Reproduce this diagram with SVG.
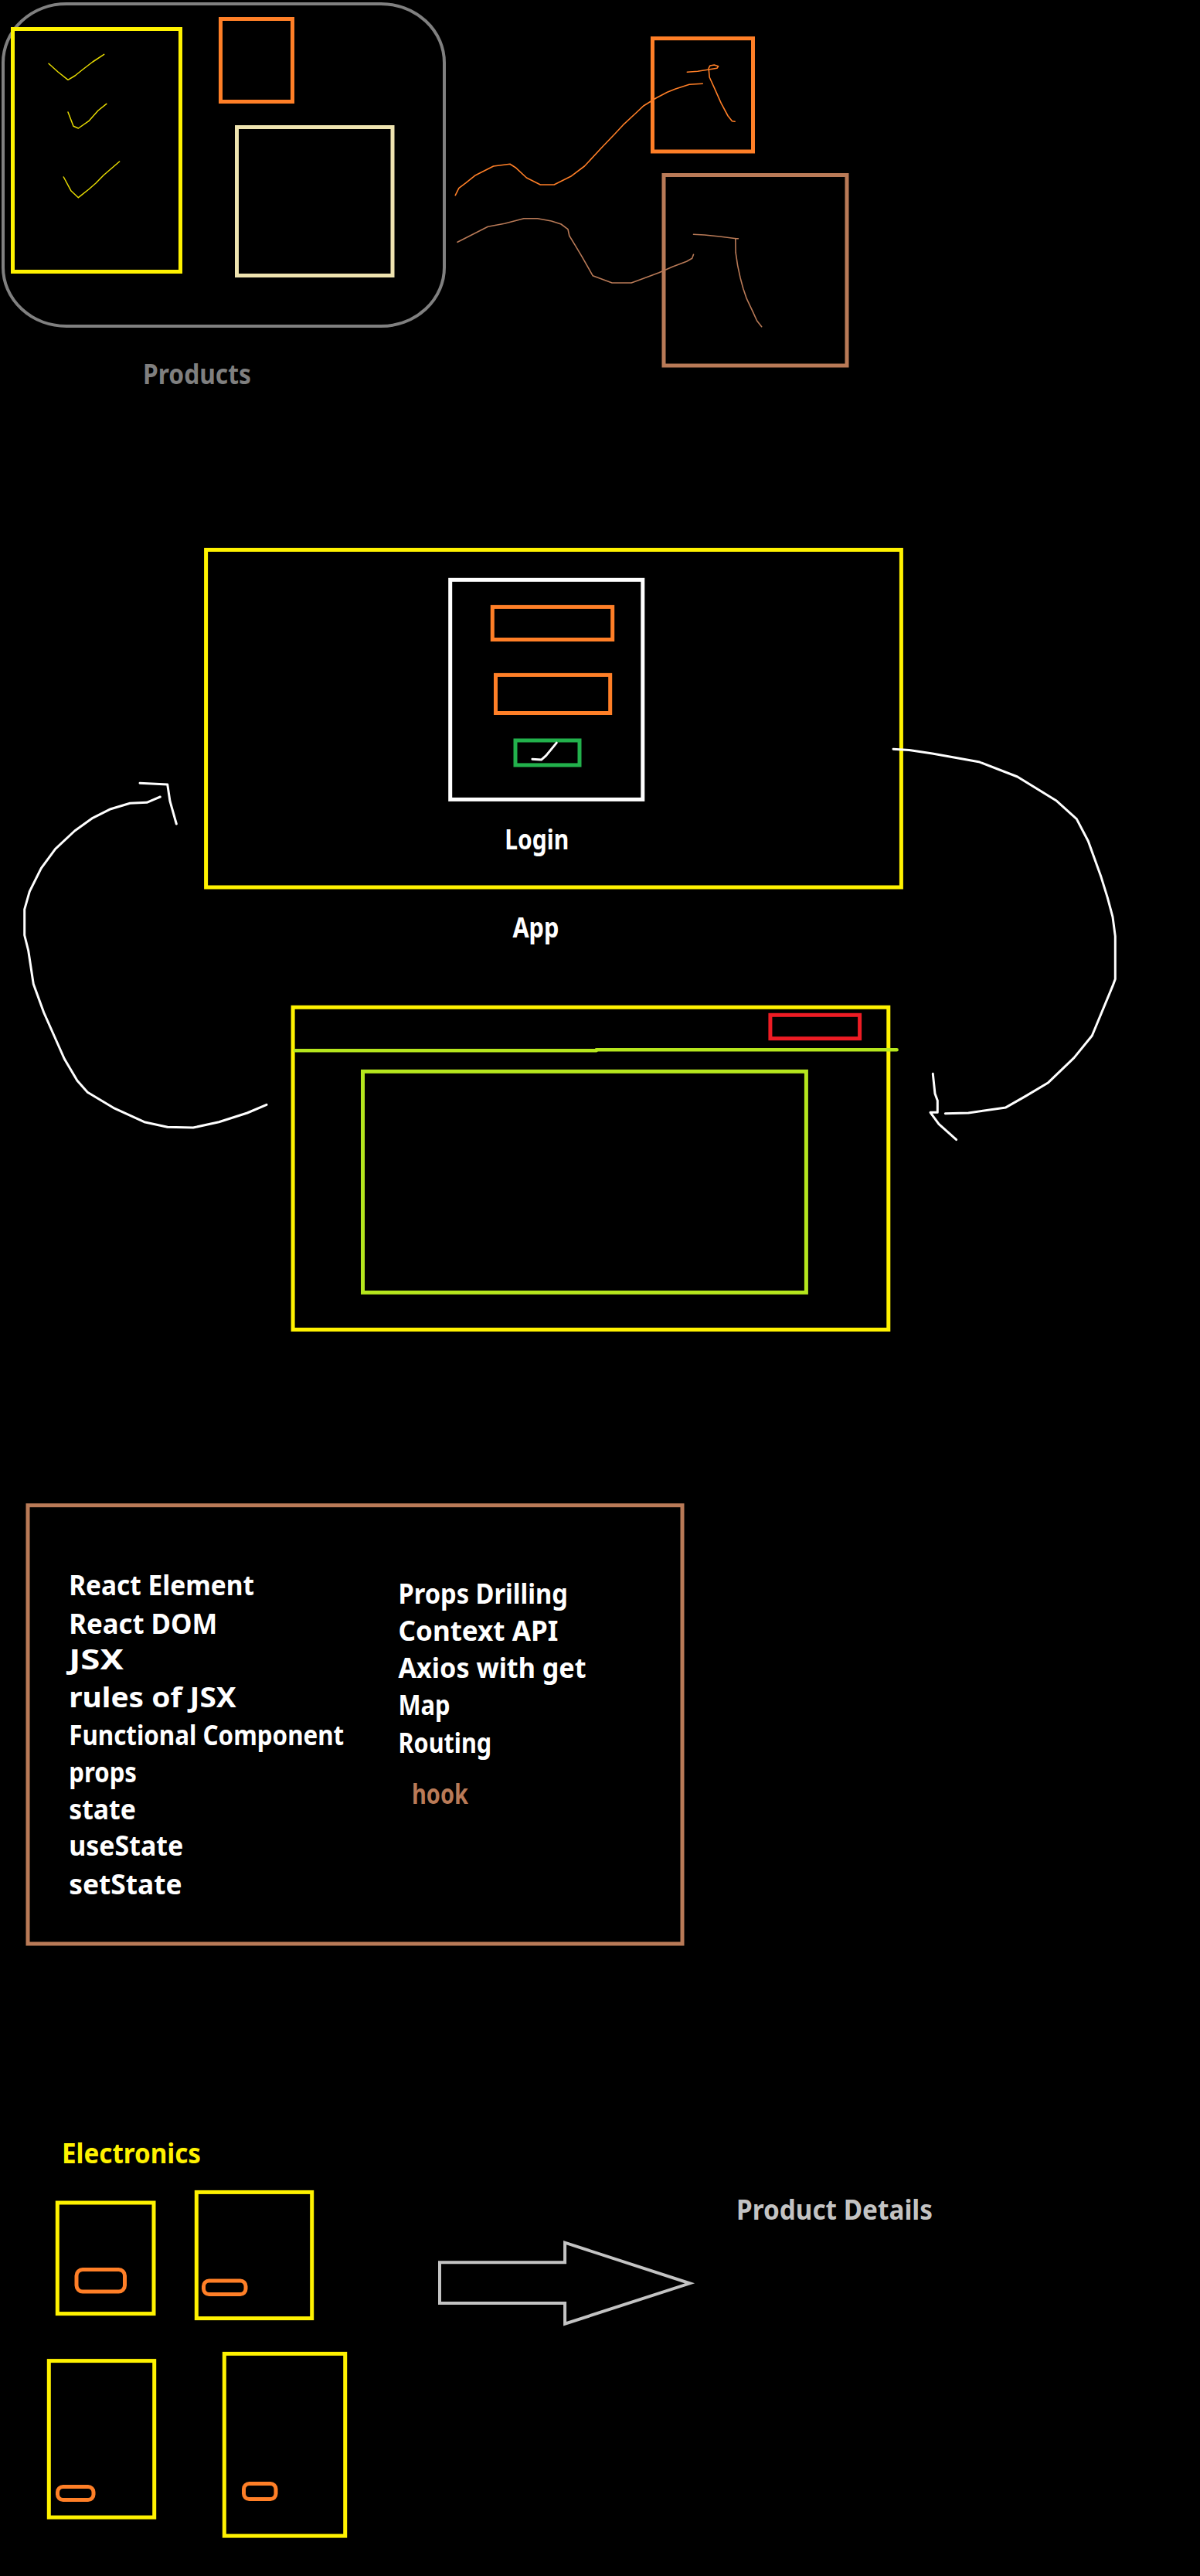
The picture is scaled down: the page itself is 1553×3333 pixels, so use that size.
<svg xmlns="http://www.w3.org/2000/svg" width="1553" height="3333" viewBox="0 0 1553 3333">
<style>
.t{font-family:"Noto Sans","DejaVu Sans",sans-serif;font-weight:bold;font-size:35px;fill:#fff}
.box{fill:none;stroke-width:5}
.y{stroke:#FFF200}
.o{stroke:#FF7F27}
.br{stroke:#B97A57}
.w{stroke:#fff}
.lg{stroke:#B5E61D}
.ink{fill:none;stroke-linecap:round;stroke-linejoin:round}
</style>
<rect x="0" y="0" width="1553" height="3333" fill="#000"/>

<g id="products">
  <rect x="4" y="5" width="571" height="417" rx="82" ry="76" fill="none" stroke="#808080" stroke-width="4"/>
  <rect class="box y" x="16.5" y="37.5" width="217" height="314"/>
  <rect class="box o" x="285.5" y="24.5" width="93" height="107"/>
  <rect class="box" stroke="#EFE4B0" x="306.5" y="164.5" width="201.5" height="192"/>
  <polyline class="ink" stroke="#E8DC00" stroke-width="1.5" points="63,82.3 75,93 88,103.3 97,98 107,90 120,80 134.7,70.3"/>
  <polyline class="ink" stroke="#E8DC00" stroke-width="1.5" points="88,145 95,163.3 101.4,166 114.8,156.7 127,143 137.8,134.3"/>
  <polyline class="ink" stroke="#E8DC00" stroke-width="1.5" points="82.3,229 91.8,246.7 101.4,255.7 114.8,245 124,237 134,226.7 154.6,209"/>
  <text class="t" x="185" y="496.5" style="fill:#7F7F7F" textLength="140" lengthAdjust="spacingAndGlyphs">Products</text>
</g>

<g id="detail-a">
  <rect class="box o" x="844.5" y="49.7" width="130" height="146.3"/>
  <polyline class="ink" stroke="#FF7F27" stroke-width="1.6" points="889.3,93.3 902.9,92.3 917.1,90 927.9,88.3 929.6,85.7 924.3,84 918.9,85 917.1,88.3 918.2,100 924.3,113.3 933.2,133.3 942.1,150 947.5,156.7 951.1,157.3"/>
</g>

<g id="detail-b">
  <rect class="box br" x="859" y="226.5" width="237" height="246.5"/>
  <polyline class="ink" stroke="#B97A57" stroke-width="1.6" points="897.5,303.3 911.8,304 931.4,306 952.9,308.7 955.4,308.7"/>
  <polyline class="ink" stroke="#B97A57" stroke-width="1.6" points="951.8,309.3 952.1,326.7 954.6,343.3 958.2,360 961.8,373.3 966.4,386.7 974.3,403.3 979.6,415 985.7,422.7"/>
</g>

<g id="app">
  <rect class="box y" x="266.6" y="711.4" width="899.8" height="436.6"/>
  <text class="t" x="663.4" y="1213" textLength="60" lengthAdjust="spacingAndGlyphs">App</text>
</g>

<g id="login">
  <rect class="box w" x="582.7" y="750.3" width="249.1" height="284.1"/>
  <rect class="box o" x="637.3" y="785.4" width="155.4" height="42.1"/>
  <rect class="box o" x="641.5" y="873.4" width="148.2" height="49.1"/>
  <rect class="box" stroke="#22B14C" stroke-width="4" x="667" y="958" width="83" height="31.9"/>
  <polyline class="ink" stroke="#fff" stroke-width="3" points="688.9,982.2 700.8,982.9 706.7,977.6 720.3,961.1"/>
  <text class="t" x="653.3" y="1098.6" textLength="83" lengthAdjust="spacingAndGlyphs">Login</text>
</g>

<g id="layout">
  <rect class="box y" x="379.1" y="1303.3" width="770.7" height="417"/>
  <rect class="box" stroke="#ED1C24" stroke-width="4.5" x="996.9" y="1313.3" width="115.7" height="30.4"/>
  <polyline class="ink lg" stroke-width="4.5" points="381.7,1359.3 771.7,1359.3 771.7,1358.3 1160.6,1358.3"/>
  <rect class="box lg" stroke-width="4.5" x="469.5" y="1386.3" width="573.9" height="286"/>
</g>

<g id="connectors">
  <polyline class="ink" stroke="#FF7F27" stroke-width="1.6" points="589.3,252.7 593.9,243.3 602.9,236.7 615.4,226.7 638.6,215 660,212.3 667.1,216.7 681.4,230 699.3,239 717.1,239 738.6,228.3 756.4,215 779.6,190 795.7,173.3 806.4,161.7 824.3,145 833.2,136.7 849.3,126.7 863.6,119.3 874.3,115 892.1,109.3 909.3,108.3"/>
  <polyline class="ink" stroke="#B97A57" stroke-width="1.6" points="592.1,313.3 631.4,293.3 652.9,289.3 677.9,282.7 695.7,282.7 713.6,286 726.1,290 735,296.7 736.8,305 743.9,316.7 752.9,331.7 767.1,356.7 792.1,366 817.1,366 831.4,360.7 852.9,352.7 870.7,345 888.6,338.3 895.7,334.3 897.5,329.3"/>
  <polyline class="ink" stroke="#fff" stroke-width="3" points="345,1429.3 320,1440 283.3,1451.7 250,1459 216.7,1458.3 186.7,1451.7 146.7,1433.3 113.3,1413.3 100,1398.3 83.3,1370 70,1340 56.7,1310 43.3,1273.3 36.7,1230 31.7,1210 31.7,1176.7 38.3,1153.3 53.3,1123.3 71.7,1098.3 96.7,1075 120,1058.3 143.3,1046.7 168.3,1039.3 190,1038.3 201.7,1033.3 207.3,1031"/>
  <polyline class="ink" stroke="#fff" stroke-width="3" points="181,1013.3 216.7,1015 220,1036.7 228.3,1066"/>
  <polyline class="ink" stroke="#fff" stroke-width="3" points="1156,969.3 1176.7,970.4 1206.7,975 1266.7,985.7 1316.7,1005 1366.7,1035.7 1393.3,1059.6 1408.3,1088.2 1425,1134.6 1433.3,1161.4 1440,1186.4 1443.3,1211.4 1443.3,1266.8 1440,1275.7 1413.3,1340 1390,1368.6 1356.7,1400.7 1326.7,1418.6 1301.7,1432.9 1253.3,1440 1223.3,1440.7"/>
  <polyline class="ink" stroke="#fff" stroke-width="3" points="1207.3,1389.3 1210,1415 1213.3,1423.9 1213.3,1439.3 1204,1439.3 1215,1454.3 1237.7,1474.6"/>
</g>

<g id="topics">
  <rect class="box br" x="36" y="1947.7" width="847" height="567.3"/>
  <text class="t" x="89.2" y="2064.3" textLength="239.7" lengthAdjust="spacingAndGlyphs">React Element</text>
  <text class="t" x="89.2" y="2114.3" textLength="192" lengthAdjust="spacingAndGlyphs">React DOM</text>
  <text class="t" x="89.2" y="2160.2" textLength="70.8" lengthAdjust="spacingAndGlyphs">JSX</text>
  <text class="t" x="89.2" y="2209.2" textLength="216.7" lengthAdjust="spacingAndGlyphs">rules of JSX</text>
  <text class="t" x="89.2" y="2258" textLength="356" lengthAdjust="spacingAndGlyphs">Functional Component</text>
  <text class="t" x="89.2" y="2305.5" textLength="87.8" lengthAdjust="spacingAndGlyphs">props</text>
  <text class="t" x="89.2" y="2354.4" textLength="86.7" lengthAdjust="spacingAndGlyphs">state</text>
  <text class="t" x="89.2" y="2401" textLength="148" lengthAdjust="spacingAndGlyphs">useState</text>
  <text class="t" x="89.2" y="2451" textLength="146.5" lengthAdjust="spacingAndGlyphs">setState</text>
  <text class="t" x="515.5" y="2074.8" textLength="219.4" lengthAdjust="spacingAndGlyphs">Props Drilling</text>
  <text class="t" x="515.5" y="2123" textLength="206.8" lengthAdjust="spacingAndGlyphs">Context API</text>
  <text class="t" x="515.5" y="2170.8" textLength="243" lengthAdjust="spacingAndGlyphs">Axios with get</text>
  <text class="t" x="515.5" y="2219" textLength="67" lengthAdjust="spacingAndGlyphs">Map</text>
  <text class="t" x="515.5" y="2267.5" textLength="120.7" lengthAdjust="spacingAndGlyphs">Routing</text>
  <text class="t" x="533" y="2334.4" style="fill:#B97A57" textLength="73" lengthAdjust="spacingAndGlyphs">hook</text>
</g>

<g id="electronics">
  <text class="t" x="80" y="2798.9" style="fill:#FFF200" textLength="180" lengthAdjust="spacingAndGlyphs">Electronics</text>
  <rect class="box y" stroke-width="4.5" x="74.3" y="2850" width="124.7" height="143.6"/>
  <rect class="box o" stroke-width="4" x="99" y="2936.5" width="62.5" height="28.5" rx="8"/>
  <rect class="box y" stroke-width="4.5" x="254.3" y="2836.4" width="149.4" height="163.2"/>
  <rect class="box o" stroke-width="4" x="263.5" y="2951" width="54.5" height="17.5" rx="7"/>
  <rect class="box y" stroke-width="4.5" x="63.3" y="3054.6" width="136.4" height="202.5"/>
  <rect class="box o" stroke-width="4" x="74.5" y="3217.5" width="46.5" height="17" rx="7"/>
  <rect class="box y" stroke-width="4.5" x="290.3" y="3045.4" width="156.4" height="235.7"/>
  <rect class="box o" stroke-width="4" x="315.5" y="3213.5" width="41.5" height="20" rx="7"/>
</g>

<g id="arrow">
  <polygon points="569,2927.3 731.1,2927.3 731.1,2901.7 892.7,2954.3 731.1,3006.7 731.1,2980 569,2980" fill="none" stroke="#C3C3C3" stroke-width="4"/>
</g>

<g id="product-details">
  <text class="t" x="953" y="2872.3" style="fill:#C3C3C3" textLength="254" lengthAdjust="spacingAndGlyphs">Product Details</text>
</g>
</svg>
